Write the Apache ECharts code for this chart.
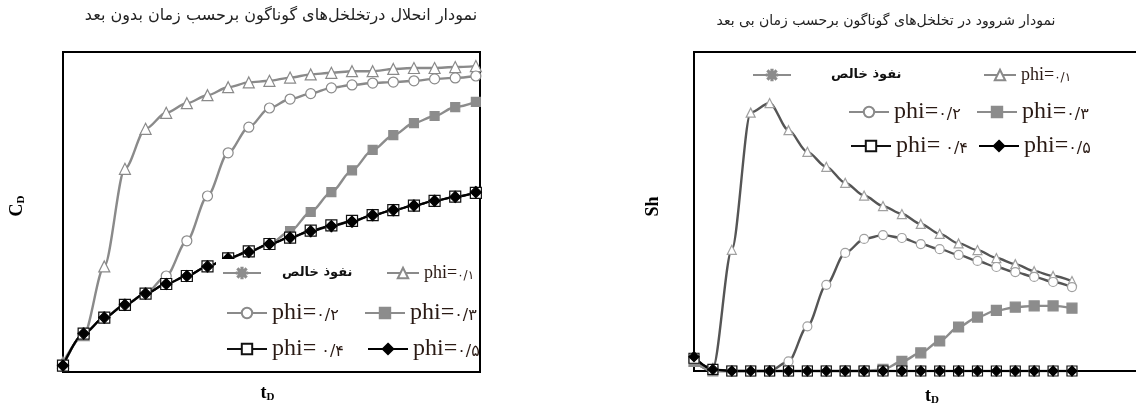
<!DOCTYPE html>
<html>
<head>
<meta charset="utf-8">
<script src="https://cdn.jsdelivr.net/npm/echarts@6/dist/echarts.min.js"></script>
<style>
  html, body { margin: 0; padding: 0; background: #fff; }
  #chart { width: 1136px; height: 405px; }
</style>
</head>
<body>
<div id="chart"></div>
<script>
// dimensionless time, same 21 steps on both plots
const tD = [0, 0.05, 0.1, 0.15, 0.2, 0.25, 0.3, 0.35, 0.4, 0.45, 0.5,
            0.55, 0.6, 0.65, 0.7, 0.75, 0.8, 0.85, 0.9, 0.95, 1.0];

const names = ['نفوذ خالص', 'phi=۰/۱', 'phi=۰/۲', 'phi=۰/۳', 'phi= ۰/۴', 'phi=۰/۵'];

// left plot : dissolution C_D
const cdPure  = [0.02, 0.12, 0.17, 0.21, 0.245, 0.275, 0.30, 0.33, 0.355, 0.375, 0.40, 0.42, 0.44, 0.456, 0.47, 0.49, 0.506, 0.52, 0.535, 0.547, 0.562];
const cdPhi01 = [0.03, 0.115, 0.33, 0.635, 0.76, 0.81, 0.84, 0.865, 0.89, 0.905, 0.91, 0.92, 0.93, 0.935, 0.94, 0.94, 0.947, 0.95, 0.95, 0.953, 0.956];
const cdPhi02 = [0.02, 0.12, 0.17, 0.21, 0.245, 0.30, 0.41, 0.55, 0.685, 0.765, 0.825, 0.853, 0.87, 0.888, 0.897, 0.903, 0.906, 0.91, 0.916, 0.919, 0.925];
const cdPhi03 = [0.02, 0.12, 0.17, 0.21, 0.245, 0.275, 0.30, 0.33, 0.355, 0.375, 0.40, 0.44, 0.50, 0.562, 0.63, 0.694, 0.74, 0.778, 0.80, 0.828, 0.844];
const cdPhi04 = [0.02, 0.12, 0.17, 0.21, 0.245, 0.275, 0.30, 0.33, 0.355, 0.377, 0.40, 0.42, 0.442, 0.458, 0.472, 0.49, 0.506, 0.52, 0.535, 0.548, 0.56];
const cdPhi05 = [0.02, 0.12, 0.17, 0.21, 0.245, 0.275, 0.30, 0.33, 0.355, 0.375, 0.40, 0.42, 0.44, 0.456, 0.47, 0.49, 0.506, 0.52, 0.535, 0.547, 0.562];

// right plot : Sherwood number
const shPure  = [0.04, 0.005, 0, 0, 0, 0, 0, 0, 0, 0, 0, 0, 0, 0, 0, 0, 0, 0, 0, 0, 0];
const shPhi01 = [0.03, 0.01, 0.38, 0.81, 0.84, 0.755, 0.687, 0.64, 0.59, 0.55, 0.517, 0.492, 0.461, 0.43, 0.40, 0.379, 0.354, 0.335, 0.313, 0.298, 0.282];
const shPhi02 = [0.03, 0, 0, 0, 0, 0.03, 0.14, 0.27, 0.37, 0.414, 0.426, 0.417, 0.398, 0.382, 0.364, 0.345, 0.326, 0.31, 0.295, 0.279, 0.263];
const shPhi03 = [0.03, 0, 0, 0, 0, 0, 0, 0, 0, 0, 0.005, 0.03, 0.057, 0.094, 0.138, 0.169, 0.19, 0.2, 0.204, 0.204, 0.197];
const shPhi04 = [0.04, 0.005, 0, 0, 0, 0, 0, 0, 0, 0, 0, 0, 0, 0, 0, 0, 0, 0, 0, 0, 0];
const shPhi05 = [0.045, 0.005, 0, 0, 0, 0, 0, 0, 0, 0, 0, 0, 0, 0, 0, 0, 0, 0, 0, 0, 0];

const cdData = [cdPure, cdPhi01, cdPhi02, cdPhi03, cdPhi04, cdPhi05];
const shData = [shPure, shPhi01, shPhi02, shPhi03, shPhi04, shPhi05];

const asterisk = 'path://M-0.7,-6L0.7,-6L0.7,6L-0.7,6Z M-6,-0.7L6,-0.7L6,0.7L-6,0.7Z M-5,-4.1L-4.1,-5L5,4.1L4.1,5Z M4.1,-5L5,-4.1L-4.1,5L-5,4.1Z';

// marker / line look per series, [left, right]
const looks = [
  { symbol: asterisk,   size: [11, 10], line: ['#8c8c8c', '#8c8c8c'], fill: '#8c8c8c', border: '#8c8c8c' },
  { symbol: 'triangle', size: [11, 9],  line: ['#8a8a8a', '#555'],    fill: '#fff',    border: ['#8a8a8a', '#a0a0a0'] },
  { symbol: 'circle',   size: [10, 9],  line: ['#8a8a8a', '#555'],    fill: '#fff',    border: ['#8a8a8a', '#a0a0a0'] },
  { symbol: 'rect',     size: [9, 10],  line: ['#8c8c8c', '#8c8c8c'], fill: '#8c8c8c', border: '#8c8c8c' },
  { symbol: 'rect',     size: [11, 10], line: ['#111', '#111'],       fill: '#fff',    border: '#111' },
  { symbol: 'diamond',  size: [11, 10], line: ['#000', '#000'],       fill: '#000',    border: '#000' }
];

function makeSeries(data, side) {
  return data.map((vals, i) => {
    const lk = looks[i];
    const border = Array.isArray(lk.border) ? lk.border[side] : lk.border;
    return {
      name: names[i],
      type: 'line',
      xAxisIndex: side,
      yAxisIndex: side,
      data: tD.map((x, k) => [x, vals[k]]),
      symbol: lk.symbol,
      symbolSize: lk.size[side],
      showAllSymbol: true,
      smooth: 0.3,
      smoothMonotone: 'x',
      clip: false,
      lineStyle: { color: lk.line[side], width: i >= 4 ? 2 : 2.4 },
      itemStyle: { color: lk.fill, borderColor: border, borderWidth: 1.2 },
      emphasis: { disabled: true }
    };
  });
}

// legend item spots: [name index, icon left, row centre y, text pad, small text]
const legendSpots = [
  [0, 222, 273, 16], [1, 386, 273, 0, true], [2, 226, 313], [3, 364, 313], [4, 226, 349], [5, 367, 349],
  [0, 752, 75, 35],  [1, 983, 75, 0, true],  [2, 848, 112], [3, 976, 112], [4, 850, 146], [5, 978, 146]
];

const legendRich = (small) => ({
  p: { fontFamily: 'Liberation Serif', fontSize: small ? 18 : 24, color: '#2a1a14' },
  d: { fontFamily: 'DejaVu Sans', fontSize: small ? 12 : 16, color: '#2a1a14', padding: [small ? 5 : 6, 0, 0, 0] }
});

const legends = legendSpots.map(([i, x, y, pad, small]) => ({
  left: x,
  top: y - 12,
  padding: 0,
  itemGap: 0,
  itemWidth: i === 0 ? 38 : (small ? 32 : 40),
  itemHeight: 13,
  selectedMode: false,
  z: 100,
  data: [names[i]],
  formatter: (n) => {
    if (n.indexOf('=') < 0) return n;
    const parts = n.split('=');
    return '{p|' + parts[0] + '=}{d|' + parts[1] + '}';
  },
  textStyle: i === 0
    ? { fontFamily: 'DejaVu Sans', fontWeight: 'bold', fontSize: 13, color: '#111', lineHeight: 24,
        padding: [0, 0, 0, pad] }
    : { lineHeight: 24, rich: legendRich(small) }
}));

const subName = (a, b) => '{a|' + a + '}{b|' + b + '}';
const nameRich = {
  a: { fontFamily: 'Liberation Serif', fontWeight: 'bold', fontSize: 18, color: '#000' },
  b: { fontFamily: 'Liberation Serif', fontWeight: 'bold', fontSize: 11, color: '#000', padding: [8, 0, 0, 0] }
};

const hiddenAxis = {
  axisLine: { show: false }, axisTick: { show: false },
  axisLabel: { show: false }, splitLine: { show: false }
};

const chart = echarts.init(document.getElementById('chart'), null, { width: 1136, height: 405 });

chart.setOption({
  animation: false,
  backgroundColor: '#fff',
  title: [
    { text: 'نمودار انحلال درتخلخل‌های گوناگون برحسب زمان بدون بعد', left: 281, top: 8, padding: 0, textAlign: 'center',
      textStyle: { fontFamily: 'DejaVu Sans', fontSize: 16, fontWeight: 'normal', color: '#222' } },
    { text: 'نمودار شروود در تخلخل‌های گوناگون برحسب زمان بی بعد', left: 886, top: 14, padding: 0, textAlign: 'center',
      textStyle: { fontFamily: 'DejaVu Sans', fontSize: 14, fontWeight: 'normal', color: '#222' } }
  ],
  legend: legends,
  grid: [
    { left: 63, top: 52, width: 417, height: 320, show: true, borderColor: '#000', borderWidth: 2,
      backgroundColor: 'transparent', outerBoundsMode: 'none', containLabel: false },
    { left: 694, top: 52, width: 460, height: 319, show: true, borderColor: '#000', borderWidth: 2,
      backgroundColor: 'transparent', outerBoundsMode: 'none', containLabel: false }
  ],
  xAxis: [
    Object.assign({ type: 'value', gridIndex: 0, min: 0, max: 1.01,
      name: subName('t', 'D'), nameLocation: 'middle', nameGap: 12,
      nameTextStyle: { rich: nameRich, padding: [0, 8, 0, 0] } }, hiddenAxis),
    Object.assign({ type: 'value', gridIndex: 1, min: 0, max: 1.217,
      name: subName('t', 'D'), nameLocation: 'middle', nameGap: 16,
      nameTextStyle: { rich: nameRich, padding: [0, 0, 0, 16] } }, hiddenAxis)
  ],
  yAxis: [
    Object.assign({ type: 'value', gridIndex: 0, min: 0, max: 1,
      name: subName('C', 'D'), nameLocation: 'middle', nameGap: 36, nameRotate: 90,
      nameTextStyle: { rich: nameRich, padding: [0, 0, 0, 12] } }, hiddenAxis),
    Object.assign({ type: 'value', gridIndex: 1, min: 0, max: 1,
      name: '{a|Sh}', nameLocation: 'middle', nameGap: 32, nameRotate: 90,
      nameTextStyle: { rich: nameRich, padding: [0, 0, 0, 10] } }, hiddenAxis)
  ],
  graphic: [
    { type: 'rect', z: 50, shape: { x: 216, y: 259, width: 263, height: 112 }, style: { fill: '#fff' } }
  ],
  series: makeSeries(cdData, 0).concat(makeSeries(shData, 1))
});
</script>
</body>
</html>
